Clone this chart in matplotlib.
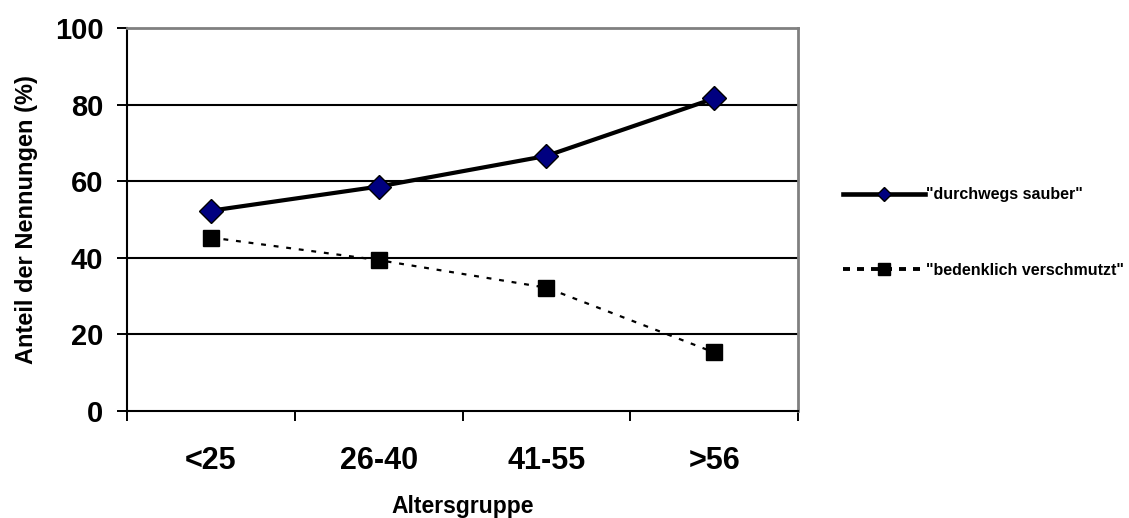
import matplotlib.pyplot as plt
from matplotlib.lines import Line2D
import numpy as np

plt.rcParams['font.family'] = ['Liberation Sans', 'DejaVu Sans']
plt.rcParams['font.weight'] = 'bold'

groups = ['<25', '26-40', '41-55', '>56']
sauber = [52.3, 58.6, 66.6, 81.6]
verschmutzt = [45.3, 39.4, 32.2, 15.3]
yticks = [0, 20, 40, 60, 80, 100]
labels = ['"durchwegs sauber"', '"bedenklich verschmutzt"']

fig = plt.figure(figsize=(11.29, 5.18), dpi=100)
ax = fig.add_axes([127 / 1129, 1 - 411 / 518, 671 / 1129, 383 / 518])

x = np.arange(len(groups))
ax.plot(x, sauber, color='black', lw=3, marker='D', ms=12,
        mfc='#000080', mec='black', mew=1, zorder=3)
ax.plot(x, verschmutzt, color='black', lw=1.6, ls=(0, (2.2, 3.5)), marker='s', ms=11,
        mfc='black', mec='black', zorder=3)

ax.set_xlim(-0.5, len(groups) - 0.5)
ax.set_ylim(0, 100)
ax.set_yticks(yticks)
ax.set_yticklabels([str(v) for v in yticks], fontsize=21, fontweight='bold')
ax.set_xticks(np.arange(len(groups) + 1) - 0.5)
ax.set_xticklabels([])
ax.set_xticks(x, minor=True)
ax.set_xticklabels(groups, minor=True, fontsize=22, fontweight='bold')
ax.tick_params(axis='x', which='major', length=7, width=1.4, direction='out')
ax.tick_params(axis='x', which='minor', length=0, pad=25)
ax.tick_params(axis='y', length=7, width=1.4, direction='out', pad=10)

for v in yticks[1:-1]:
    ax.axhline(v, color='black', lw=1.5, zorder=1)

ax.spines['left'].set_linewidth(1.5)
ax.spines['bottom'].set_linewidth(1.5)
for side in ['top', 'right']:
    ax.spines[side].set_color('#808080')
    ax.spines[side].set_linewidth(2)

ax.set_ylabel('Anteil der Nennungen (%)', fontsize=17, fontweight='bold', labelpad=12)
ax.set_xlabel('Altersgruppe', fontsize=16.5, fontweight='bold', labelpad=14)

handles = [
    Line2D([], [], color='black', lw=3.3, marker='D', ms=7, mfc='#000080', mec='black'),
    Line2D([], [], color='black', lw=2.8, ls=(0, (1.8, 1.8)), marker='s', ms=8.5,
           mfc='black', mec='black'),
]
fig.legend(handles, labels, loc='upper left', bbox_to_anchor=(0.734, 0.666), frameon=False,
           prop={'size': 11.5, 'weight': 'bold'}, handlelength=5.1, handletextpad=0.1,
           labelspacing=3.8)

fig.savefig('out.png', dpi=100)
